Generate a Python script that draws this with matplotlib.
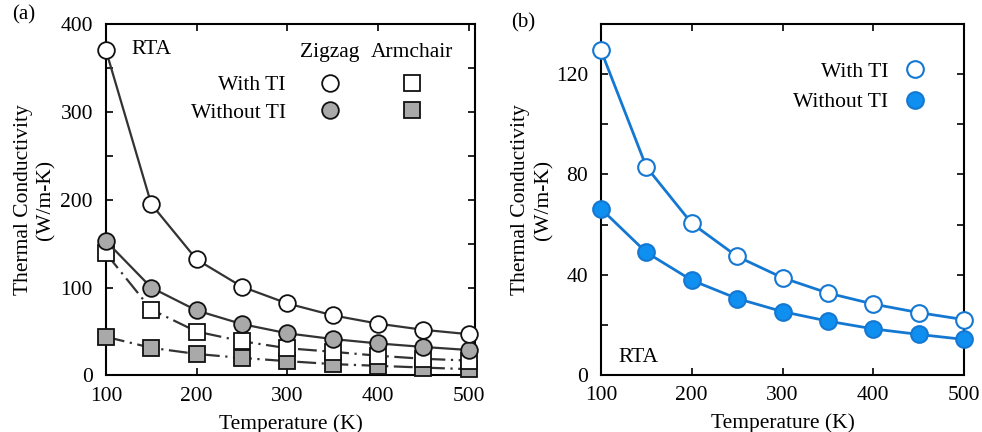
import numpy as np
import matplotlib
matplotlib.use("Agg")
import matplotlib.pyplot as plt
from matplotlib.ticker import MultipleLocator
from matplotlib.lines import Line2D

plt.rcParams['font.family'] = ['Liberation Serif', 'DejaVu Serif']
plt.rcParams['font.size'] = 15.5

# temperatures (K)
T = [100, 150, 200, 250, 300, 350, 400, 450, 500]

# panel (a): zigzag / armchair, with and without TI
zz_with = [370, 195, 132, 101, 82, 68.5, 59, 52, 47]
zz_without = [153, 100, 74, 58.5, 48, 41.5, 36.5, 32.5, 29]
ac_with = [139, 75, 50, 39, 31, 27, 22.5, 19, 17]
ac_without = [44, 31.5, 24.5, 20, 16.3, 13, 11, 9, 7.2]

# panel (b)
b_with = [129.5, 83, 60.5, 47.3, 38.8, 32.7, 28.3, 24.9, 22.1]
b_without = [66.3, 48.9, 37.8, 30.5, 25.3, 21.5, 18.4, 16.2, 14.2]

dark = '#333333'
edge = '#111111'
gray = '#a9a9a9'
blue_fill = '#0f8ff0'
blue_line = '#1478d2'

fig = plt.figure(figsize=(9.82, 4.32), dpi=100)
axa = fig.add_axes([0.1079, 0.1308, 0.3758, 0.8137])
axb = fig.add_axes([0.612, 0.1319, 0.3697, 0.8125])

ms = 12
dd = (8.5, 2.5, 1, 2.5)

axa.plot(T, ac_without, color=dark, lw=1.6, dashes=dd, marker='s', ms=11,
         mfc=gray, mec=edge, mew=1.3, zorder=3, clip_on=False)
axa.plot(T, ac_with, color=dark, lw=1.6, dashes=dd, marker='s', ms=11,
         mfc='white', mec=edge, mew=1.3, zorder=3, clip_on=False)
axa.plot(T, zz_without, color=dark, lw=1.6, marker='o', ms=ms,
         mfc=gray, mec=edge, mew=1.3, zorder=4, clip_on=False)
axa.plot(T, zz_with, color=dark, lw=1.6, marker='o', ms=ms,
         mfc='white', mec=edge, mew=1.3, zorder=4, clip_on=False)

axa.set_xlim(100, 507)
axa.set_ylim(0, 400)
axa.xaxis.set_major_locator(MultipleLocator(100))
axa.yaxis.set_major_locator(MultipleLocator(100))
axa.yaxis.set_minor_locator(MultipleLocator(50))
axa.text(0.07, 0.926, 'RTA', transform=axa.transAxes, ha='left', va='center')

# legend table for panel (a)
h_zw = Line2D([], [], ls='none', marker='o', ms=ms, mfc='white', mec=edge, mew=1.3)
h_zo = Line2D([], [], ls='none', marker='o', ms=ms, mfc=gray, mec=edge, mew=1.3)
h_aw = Line2D([], [], ls='none', marker='s', ms=11, mfc='white', mec=edge, mew=1.3)
h_ao = Line2D([], [], ls='none', marker='s', ms=11, mfc=gray, mec=edge, mew=1.3)
axa.legend([h_zw, h_zo, h_aw, h_ao], ['With TI', 'Without TI', '', ''],
           ncol=2, markerfirst=False, frameon=False, handlelength=1,
           handletextpad=1.55, columnspacing=1.26, labelspacing=0.35,
           loc='upper right', bbox_to_anchor=(0.858, 0.854),
           borderaxespad=0, borderpad=0)
axa.text(0.607, 0.918, 'Zigzag', transform=axa.transAxes, ha='center', va='center')
axa.text(0.829, 0.918, 'Armchair', transform=axa.transAxes, ha='center', va='center')

axb.plot(T, b_with, color=blue_line, lw=2, marker='o', ms=ms,
         mfc='white', mec=blue_line, mew=1.5, zorder=4, clip_on=False)
axb.plot(T, b_without, color=blue_line, lw=2, marker='o', ms=ms,
         mfc=blue_fill, mec=blue_line, mew=1.5, zorder=4, clip_on=False)
axb.set_xlim(100, 500)
axb.set_ylim(0, 140)
axb.xaxis.set_major_locator(MultipleLocator(100))
axb.yaxis.set_major_locator(MultipleLocator(40))
axb.yaxis.set_minor_locator(MultipleLocator(20))
axb.text(0.047, 0.05, 'RTA', transform=axb.transAxes, ha='left', va='center')
hb_w = Line2D([], [], ls='none', marker='o', ms=ms, mfc='white', mec=blue_line, mew=1.5)
hb_o = Line2D([], [], ls='none', marker='o', ms=ms, mfc=blue_fill, mec=blue_line, mew=1.5)
axb.legend([hb_w, hb_o], ['With TI', 'Without TI'], markerfirst=False, frameon=False,
           handlelength=1, handletextpad=0.76, labelspacing=0.48,
           loc='upper right', bbox_to_anchor=(0.895, 0.893),
           borderaxespad=0, borderpad=0)

for ax, lx in ((axa, -0.193), (axb, -0.19)):
    ax.set_xlabel('Temperature (K)', va='center')
    ax.set_ylabel('Thermal Conductivity\n(W/m-K)', linespacing=1.27, va='center')
    ax.tick_params(which='both', direction='in', top=True, right=True,
                   length=5, width=1.2)
    ax.tick_params(axis='x', pad=8)
    ax.tick_params(axis='y', pad=9.4)
    for s in ax.spines.values():
        s.set_linewidth(1.5)
    ax.yaxis.set_label_coords(lx, 0.5)
    ax.xaxis.set_label_coords(0.5, -0.138)

fig.text(0.012, 0.965, '(a)', ha='left', va='center', fontsize=15)
fig.text(0.521, 0.948, '(b)', ha='left', va='center', fontsize=15)

fig.savefig('out.png', dpi=100)
